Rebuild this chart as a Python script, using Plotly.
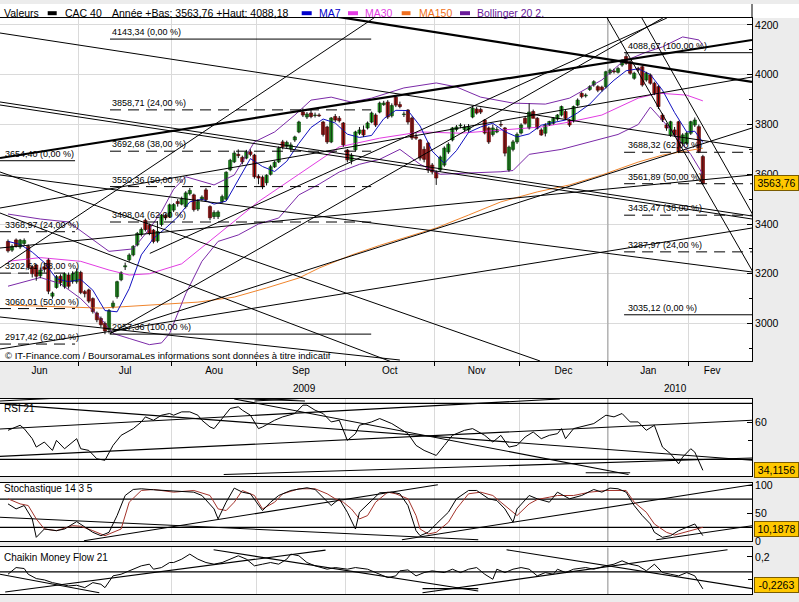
import plotly.graph_objects as go

W, H = 799, 602
FONT = "Liberation Sans, Arial, sans-serif"

# ---------------- data (CAC 40, daily, 5 Jun 2009 -> 4 Feb 2010) ----------------
opens = [3330,3295,3336,3308,3322,3310,3228,3235,3192,3228,
         3255,3110,3145,3190,3148,3195,3170,3168,3205,3128,
         3135,3100,3042,3020,3000,2975,3068,3108,3176,3228,
         3256,3276,3316,3358,3415,3395,3375,3332,3398,3435,
         3430,3456,3490,3480,3470,3522,3517,3460,3500,3537,
         3470,3430,3430,3490,3500,3618,3650,3680,3668,3665,
         3690,3677,3592,3588,3566,3600,3630,3650,3730,3712,
         3702,3738,3770,3850,3830,3846,3836,3838,3810,3790,
         3730,3832,3825,3806,3697,3655,3698,3765,3778,3786,
         3810,3838,3850,3880,3890,3835,3910,3880,3840,3858,
         3826,3750,3738,3700,3725,3637,3609,3617,3637,3690,
         3738,3780,3795,3780,3778,3830,3862,3860,3818,3786,
         3760,3770,3800,3786,3617,3700,3730,3766,3825,3786,
         3852,3825,3778,3765,3798,3805,3822,3838,3852,3818,
         3815,3878,3925,3915,3941,3959,3952,3950,3952,4007,
         4015,4010,4039,4073,4052,3986,4026,4032,3979,3999,
         3966,3952,3838,3798,3758,3778,3811,3724,3724,3765,
         3798,3791,3671]
highs = [3338,3318,3342,3340,3342,3318,3235,3240,3225,3245,
         3262,3128,3195,3198,3205,3205,3210,3222,3212,3135,
         3140,3105,3048,3028,3008,3058,3092,3172,3210,3245,
         3282,3315,3368,3386,3422,3402,3380,3412,3440,3442,
         3482,3484,3500,3510,3532,3545,3522,3500,3515,3545,
         3475,3455,3455,3518,3612,3662,3695,3700,3675,3698,
         3700,3682,3600,3595,3600,3638,3655,3712,3738,3735,
         3728,3755,3815,3865,3850,3858,3848,3845,3815,3795,
         3830,3842,3834,3810,3702,3685,3775,3790,3796,3812,
         3852,3845,3892,3895,3898,3885,3918,3892,3852,3862,
         3832,3765,3742,3712,3730,3645,3615,3675,3712,3728,
         3790,3798,3805,3800,3802,3872,3870,3868,3822,3792,
         3800,3790,3815,3790,3715,3738,3768,3805,3830,3885,
         3860,3830,3785,3805,3815,3830,3842,3876,3858,3822,
         3876,3905,3930,3925,3958,3978,3958,3956,4016,4025,
         4024,4032,4062,4088,4058,4012,4032,4038,4012,4005,
         3972,3958,3845,3805,3815,3790,3815,3765,3770,3815,
         3828,3800,3678]
lows = [3285,3288,3305,3300,3315,3215,3185,3172,3182,3205,
        3118,3100,3140,3150,3140,3140,3160,3160,3118,3105,
        3082,3040,3005,2985,2957,2960,3060,3100,3170,3215,
        3248,3270,3310,3350,3370,3355,3322,3325,3390,3415,
        3425,3448,3470,3475,3462,3515,3450,3452,3492,3490,
        3415,3420,3420,3485,3495,3612,3645,3665,3640,3660,
        3672,3582,3560,3540,3555,3595,3625,3645,3700,3705,
        3695,3730,3765,3830,3822,3825,3828,3830,3752,3722,
        3725,3810,3808,3710,3648,3640,3690,3758,3750,3780,
        3805,3790,3845,3875,3822,3828,3870,3865,3830,3800,
        3738,3738,3655,3648,3605,3600,3557,3610,3630,3682,
        3732,3772,3785,3772,3770,3825,3840,3842,3760,3722,
        3752,3765,3790,3672,3610,3692,3722,3760,3800,3780,
        3825,3780,3755,3752,3795,3800,3815,3832,3820,3790,
        3808,3872,3905,3908,3935,3952,3930,3932,3945,4000,
        4005,4005,4032,4040,4000,3980,4012,3952,3972,3960,
        3918,3862,3810,3775,3750,3750,3685,3715,3718,3758,
        3790,3685,3558]
closes = [3292,3310,3312,3335,3334,3225,3200,3190,3214,3218,
          3130,3122,3188,3165,3200,3150,3200,3208,3125,3120,
          3090,3048,3015,2995,2970,3052,3082,3168,3204,3232,
          3275,3310,3362,3378,3378,3362,3330,3370,3436,3425,
          3477,3478,3482,3500,3525,3535,3458,3490,3508,3498,
          3425,3446,3448,3510,3608,3656,3685,3675,3650,3690,
          3680,3590,3585,3550,3596,3630,3648,3705,3710,3728,
          3718,3750,3810,3838,3842,3832,3838,3835,3760,3730,
          3826,3818,3815,3718,3658,3676,3770,3778,3758,3806,
          3846,3798,3886,3886,3830,3876,3878,3872,3842,3810,
          3746,3745,3665,3660,3617,3609,3585,3669,3705,3720,
          3786,3790,3796,3790,3792,3866,3846,3850,3766,3730,
          3786,3780,3798,3685,3709,3730,3760,3798,3805,3850,
          3825,3785,3758,3798,3812,3825,3838,3872,3825,3798,
          3872,3898,3912,3918,3952,3972,3938,3940,4012,4019,
          4012,4025,4056,4046,4006,4006,4019,3959,4006,3966,
          3925,3872,3818,3786,3811,3758,3691,3758,3765,3811,
          3818,3691,3563.76]

ma7_idx = [0,3,6,9,12,15,18,21,24,27,30,33,36,39,42,45,48,51,54,57,60,63,66,69,72,75,78,81,84,87,
           90,93,96,99,102,105,108,111,114,117,120,123,126,129,132,135,138,141,144,147,150,153,156,159,
           162,165,168,170,172]
ma7_val = [3330,3318,3287,3245,3180,3168,3177,3134,3052,3047,3140,3276,3342,3383,3428,3489,3500,3480,
           3492,3575,3663,3631,3611,3652,3724,3788,3822,3806,3761,3748,3756,3823,3857,3856,3794,3693,
           3644,3695,3768,3790,3805,3771,3750,3762,3797,3808,3818,3847,3882,3933,3978,4016,4024,4001,
           3938,3848,3770,3773,3728]
ma30_idx = [0,8,18,25,30,35,43,52,62,72,82,92,102,112,122,132,139,147,156,161,168,172]
ma30_val = [3250,3265,3250,3215,3195,3200,3240,3360,3490,3600,3710,3745,3770,3765,3778,3790,3810,
            3838,3906,3926,3918,3895]
ma150_idx = [0,10,23,47,56,64,72,77,85,92,98,106,114,122,131,139,147,156,162,172]
ma150_val = [3074,3068,3062,3086,3106,3143,3183,3223,3275,3314,3344,3384,3436,3489,3529,3557,3597,
             3649,3677,3705]
boll_up_idx = [0,8,15,25,31,35,38,41,44,51,56,61,66,71,75,80,85,90,98,106,111,117,125,133,139,147,
               152,158,162,167,171,172]
boll_up_val = [3440,3420,3408,3290,3300,3380,3450,3540,3590,3557,3597,3730,3770,3838,3898,3910,3890,
               3906,3947,3967,3951,3910,3886,3882,3906,3979,4051,4091,4112,4152,4140,4120]
boll_lo_idx = [0,8,13,18,23,26,30,35,38,40,44,48,52,57,62,67,72,77,82,87,92,97,102,107,114,122,125,
               129,137,144,151,156,159,164,169,172]
boll_lo_val = [3150,3185,3160,3100,3020,2960,2940,2915,2922,2960,3120,3250,3330,3356,3400,3424,3517,
               3560,3609,3640,3660,3700,3640,3600,3605,3610,3615,3680,3700,3730,3760,3800,3870,3780,
               3680,3600]

rsi_idx = [0,1,3,4,6,7,9,11,12,14,17,18,20,22,24,26,28,31,33,34,36,38,40,41,43,45,47,48,50,51,
           53,55,57,58,60,62,63,66,68,71,73,74,76,78,80,82,84,86,87,90,92,95,97,99,101,103,105,106,
           108,110,113,115,118,120,122,124,126,128,130,132,134,136,137,138,140,143,145,148,150,152,
           154,156,158,160,162,164,166,167,169,170,172]
rsi_val = [55.6,56.5,58.3,56.5,51.1,46.6,49.3,44.8,50.2,45.7,51.1,45.7,44.8,40.3,39.5,47.5,52.9,
           56.5,60.1,62.8,61.0,63.7,64.6,63.7,65.5,65.5,63.7,61.0,57.4,56.5,61.9,67.3,68.2,66.4,
           63.7,56.5,57.4,61.0,62.8,64.6,69.1,69.1,66.4,64.6,60.1,61.0,50.2,53.8,58.3,60.1,61.9,
           59.2,56.5,53.8,47.5,44.8,43.0,42.1,47.5,52.9,55.6,56.5,52.9,49.3,52.9,46.6,47.5,52.0,
           54.7,51.1,52.9,53.8,56.5,51.1,56.5,58.3,59.2,63.7,62.8,64.6,60.1,60.1,55.6,58.3,46.6,
           43.0,37.6,41.2,45.7,43.9,34.1156]

stk_idx = [0,2,4,6,7,9,12,14,17,19,21,23,25,27,29,31,33,36,40,43,46,48,51,52,54,56,58,60,62,63,
           65,67,70,74,76,79,80,82,84,86,87,90,92,95,97,99,101,102,104,106,109,111,114,116,119,121,
           123,125,126,129,131,134,136,139,142,145,147,149,151,153,155,157,159,160,162,164,166,168,
           170,172]
stk_val = [66.5,57.6,63.6,39.8,7.2,22.0,19.0,22.0,35.1,25.0,16.1,10.1,16.1,45.8,81.4,92.1,93.3,
           91.5,90.3,88.5,87.3,81.4,57.6,39.8,69.5,94.5,87.3,84.4,63.6,54.7,69.5,81.4,90.3,95.1,
           92.1,69.5,63.6,75.5,51.7,22.0,51.7,72.5,86.2,87.3,84.4,63.6,19.0,10.1,16.1,30.9,51.7,
           75.5,90.3,90.3,75.5,72.5,57.6,33.9,57.6,81.4,75.5,69.5,87.3,75.5,81.4,92.1,87.3,94.5,
           93.3,87.3,63.6,45.8,30.9,16.1,7.2,10.1,19.0,25.0,30.9,10.1878]
std_idx = [0,3,5,7,9,12,16,18,21,24,28,30,33,36,41,46,50,52,54,56,58,61,63,66,68,72,76,79,81,83,
           85,87,89,91,94,96,99,101,102,104,106,109,111,114,117,120,122,125,126,129,131,134,136,140,
           144,148,150,153,155,158,160,163,165,168,170,172]
std_val = [75.5,66.5,63.6,39.8,22.0,19.0,27.9,26.8,19.0,10.1,22.0,69.5,90.3,92.1,87.3,90.3,81.4,
           57.6,54.7,69.5,90.3,81.4,57.6,69.5,84.4,93.3,93.3,84.4,75.5,69.5,57.6,39.8,45.8,69.5,
           87.3,84.4,75.5,45.8,22.0,13.1,16.1,33.9,57.6,84.4,87.3,81.4,69.5,51.7,45.8,66.5,74.3,
           78.4,81.4,81.4,87.3,90.3,90.3,90.3,69.5,51.7,30.9,16.1,11.3,17.2,22.0,25.0]

cmf_idx = [0,1,2,4,5,7,9,11,13,15,17,19,21,23,24,26,28,31,33,35,36,38,40,41,43,45,47,49,51,53,
           55,57,59,61,63,65,67,69,70,72,74,76,79,81,84,86,89,91,94,96,97,99,101,103,105,108,110,
           112,114,116,118,120,121,123,125,127,129,131,133,135,136,138,140,143,145,148,150,152,154,
           156,158,160,162,164,166,168,170,172]
cmf_val = [-0.031,0.014,0.058,0.045,-0.031,-0.089,-0.107,-0.143,-0.165,-0.187,-0.178,-0.21,-0.143,
           -0.165,-0.21,-0.053,-0.031,0.036,0.081,0.103,0.036,0.058,0.125,0.125,0.170,0.237,0.170,
           0.125,0.103,0.125,0.170,0.215,0.170,0.081,0.103,0.125,0.103,0.170,0.237,0.215,0.125,
           0.081,0.036,0.058,0.036,0.058,0.036,-0.009,-0.076,-0.053,0.014,0.027,-0.053,-0.009,
           0.014,-0.009,0.036,-0.009,0.036,0.058,-0.031,-0.098,0.036,-0.009,0.036,0.058,0.036,
           -0.053,-0.009,-0.031,0.036,-0.009,0.036,0.058,0.036,0.081,0.103,0.148,0.103,0.081,
           0.014,0.103,-0.009,-0.031,-0.053,-0.009,-0.053,-0.2263]

month_bounds = [17.5, 40.5, 61.5, 83.5, 105.5, 126.5, 148.5, 168.5]
month_centers = [7.8, 29, 51, 72.5, 94.5, 116, 137.5, 158.5, 174.3]
month_labels = ["Jun", "Jul", "Aou", "Sep", "Oct", "Nov", "Dec", "Jan", "Fev"]
year_pos = [73.5, 165.3]
year_labels = ["2009", "2010"]
year_break = 148.5

# Fibonacci retracements drawn on the chart
fibA_vals = [4143.34, 3858.71, 3692.68, 3550.36, 3408.04, 2957.36]
fibA_text = ["4143,34 (0,00 %)", "3858,71 (24,00 %)", "3692,68 (38,00 %)", "3550,36 (50,00 %)",
             "3408,04 (62,00 %)", "2957,36 (100,00 %)"]
fibA_dash = [False, True, True, True, True, False]
fibA_span = [25.25, 89.9]
fibB_vals = [4088.67, 3688.32, 3561.89, 3435.47, 3287.97, 3035.12]
fibB_text = ["4088,67 (100,00 %)", "3688,32 (62,00 %)", "3561,89 (50,00 %)", "3435,47 (38,00 %)",
             "3287,97 (24,00 %)", "3035,12 (0,00 %)"]
fibB_dash = [False, True, True, True, True, False]
fibB_span = [152.5, 184.16]
fibC_vals = [3654.40, 3368.97, 3202.61, 3060.01, 2917.42]
fibC_text = ["3654,40 (0,00 %)", "3368,97 (24,00 %)", "3202,61 (38,00 %)", "3060,01 (50,00 %)",
             "2917,42 (62,00 %)"]
fibC_dash = [False, True, True, True, True]
fibC_span = [-1.98, 16.6]

# hand-drawn trend lines (day index, value)
main_lines_thin = [
    (-1.98, 4167.8, 184.16, 3705.5), (-1.98, 3890.5, 184.16, 3432.2), (-1.98, 3878.4, 184.16, 3420.1),
    (-1.98, 3223.1, 91.3, 4236.2), (-1.98, 3609.1, 131.7, 2849.3), (-1.98, 3597.0, 184.16, 3207.1),
    (-1.98, 2897.5, 184.16, 3383.9), (25.2, 2961.8, 184.16, 3785.9), (148.3, 4228.1, 184.4, 3207.1),
    (156.9, 4228.1, 184.4, 3436.2), (25.2, 2957.8, 162.1, 4228.1), (-1.98, 3303.5, 184.16, 3597.0),
    (-1.98, 3026.2, 97.0, 2853.3), (-1.98, 3444.2, 97.0, 2833.0), (35.1, 3281.8, 163.1, 4228.1),
    (-1.98, 3464.3, 184.16, 3990.9)]
main_lines_thick = [(-1.98, 3665.3, 184.16, 4139.7), (72.3, 4256.3, 184.16, 3970.9)]
rsi_lines = [(-1.98, 71.3, 10.6, 72.7), (-0.7, 69.5, 184.2, 39.5), (-1.98, 56.3, 136.6, 72.4),
             (-1.98, 41.6, 184.2, 61.0), (53.4, 31.9, 184.2, 40.7), (56.0, 72.7, 73.5, 71.3),
             (61.0, 71.3, 72.3, 72.7), (143.0, 32.8, 154.0, 32.8), (56.0, 72.4, 153.6, 31.9)]
rsi_levels = [70, 40]
sto_lines = [(-1.98, 42.7, 116.4, 3.0), (18.8, 1.2, 106.4, 100.4), (97.5, 3.0, 184.2, 100.4),
             (160.5, 3.0, 184.2, 27.8)]
sto_levels = [75, 25]
cmf_lines = [(-1.98, -0.031, 22.6, -0.277), (-0.7, -0.268, 78.6, 0.291), (50.9, 0.295, 116.4, -0.255),
             (102.6, -0.277, 178.1, 0.295), (123.4, 0.295, 184.2, -0.223), (102.6, -0.223, 116.4, -0.223)]
cmf_levels = [0]

last_close_txt = "3563,76"
rsi_last_txt, sto_last_txt, cmf_last_txt = "34,1156", "10,1878", "-0,2263"

# ---------------- figure ----------------
n = len(closes)
days = list(range(n))
X_RANGE = [-1.98, 184.16]
X_DOM = [0, 752 / W]
RANGES = {"y": [2849.3, 4228.1], "y2": [31.07, 72.4], "y3": [0, 103.9], "y4": [-0.2987, 0.3267]}


def fy(y):
    return 1 - y / H


def fx(x):
    return x / W


fig = go.Figure()


def segs(lines, xa, ya, width=1, color="black", dash=None):
    xs, ys = [], []
    for a, b, c, d in lines:
        xs += [a, c, None]
        ys += [b, d, None]
    fig.add_trace(go.Scatter(x=xs, y=ys, mode="lines", xaxis=xa, yaxis=ya, hoverinfo="skip",
                             line=dict(color=color, width=width, dash=dash), showlegend=False))


def line(xs, ys, xa, ya, color, width=1):
    fig.add_trace(go.Scatter(x=xs, y=ys, mode="lines", xaxis=xa, yaxis=ya, hoverinfo="skip",
                             line=dict(color=color, width=width), showlegend=False))


# year separator (drawn first, above the grid)
for xa, ya in [("x", "y"), ("x2", "y2"), ("x3", "y3"), ("x4", "y4")]:
    r = RANGES[ya]
    segs([(year_break, r[0], year_break, r[1])], xa, ya, width=1, color="#9a9a9a")

# indicators on main chart
line(ma150_idx, ma150_val, "x", "y", "#f0852d")
line(boll_up_idx, boll_up_val, "x", "y", "#7b2aa8")
line(boll_lo_idx, boll_lo_val, "x", "y", "#7b2aa8")
line(ma30_idx, ma30_val, "x", "y", "#e23ce2")
line(ma7_idx, ma7_val, "x", "y", "#1010c0")

# candles: wicks + bodies
wx, wy = [], []
for i in days:
    wx += [i, i, None]
    wy += [lows[i], highs[i], None]
fig.add_trace(go.Scatter(x=wx, y=wy, mode="lines", xaxis="x", yaxis="y", hoverinfo="skip",
                         line=dict(color="#111111", width=1), showlegend=False))
up = [c >= o for o, c in zip(opens, closes)]
fig.add_trace(go.Bar(
    x=days, base=[min(o, c) for o, c in zip(opens, closes)],
    y=[max(abs(c - o), 2.0) for o, c in zip(opens, closes)], width=0.78,
    xaxis="x", yaxis="y", hoverinfo="skip", showlegend=False,
    marker=dict(color=["#22b822" if u else "#c81414" for u in up],
                line=dict(color=["#0d4a0d" if u else "#5a0606" for u in up], width=0.7))))

# fib lines
for vals, dashes, span in [(fibA_vals, fibA_dash, fibA_span), (fibB_vals, fibB_dash, fibB_span),
                           (fibC_vals, fibC_dash, fibC_span)]:
    solid = [(span[0], v, span[1], v) for v, d in zip(vals, dashes) if not d]
    dashed = [(span[0], v, span[1], v) for v, d in zip(vals, dashes) if d]
    segs(solid, "x", "y")
    segs(dashed, "x", "y", dash="11px,7px")

segs(main_lines_thin, "x", "y", width=1)
segs(main_lines_thick, "x", "y", width=2.2)

# RSI
segs([(X_RANGE[0], v, X_RANGE[1], v) for v in rsi_levels], "x2", "y2", width=1.3)
segs(rsi_lines, "x2", "y2", width=1.1)
line(rsi_idx, rsi_val, "x2", "y2", "#000000")
# Stochastic
segs([(X_RANGE[0], v, X_RANGE[1], v) for v in sto_levels], "x3", "y3", width=1.3)
segs(sto_lines, "x3", "y3", width=1.1)
line(std_idx, std_val, "x3", "y3", "#a3332b")
line(stk_idx, stk_val, "x3", "y3", "#000000")
# Chaikin
segs([(X_RANGE[0], v, X_RANGE[1], v) for v in cmf_levels], "x4", "y4", width=1.3)
segs(cmf_lines, "x4", "y4", width=1.1)
line(cmf_idx, cmf_val, "x4", "y4", "#000000")

GRID = "#dadada"
tickfont = dict(family=FONT, size=10.5, color="black")


def xax(anchor, main=False):
    d = dict(domain=X_DOM, range=X_RANGE, anchor=anchor, showline=True, mirror=True,
             linecolor="black", linewidth=1, zeroline=False, showgrid=False, fixedrange=True,
             minor=dict(tickmode="array", tickvals=month_bounds, showgrid=True, gridcolor=GRID,
                        gridwidth=1, ticks="outside" if main else "", ticklen=4,
                        tickcolor="black"))
    if main:
        d.update(tickmode="array", tickvals=month_centers, ticktext=month_labels, ticks="",
                 showticklabels=True, tickfont=dict(family=FONT, size=10, color="black"))
    else:
        d.update(showticklabels=False, ticks="")
    return d


def yax(dom, rng, anchor, **kw):
    d = dict(domain=dom, range=rng, anchor=anchor, side="right", showline=True, linecolor="black",
             linewidth=1, zeroline=False, showgrid=False, ticks="inside", ticklen=5,
             tickcolor="black", tickfont=tickfont, fixedrange=True)
    d.update(kw)
    return d


layout = dict(
    width=W, height=H, margin=dict(l=0, r=0, t=0, b=0), template="none",
    paper_bgcolor="#ececec", plot_bgcolor="white", showlegend=False, barmode="overlay",
    font=dict(family=FONT, size=10, color="black"), separators=", ",
    xaxis=xax("y", main=True), xaxis2=xax("y2"), xaxis3=xax("y3"), xaxis4=xax("y4"),
    yaxis=yax([fy(361), fy(18)], RANGES["y"], "x", tickmode="linear", tick0=0, dtick=200,
              showgrid=True, gridcolor=GRID,
              minor=dict(dtick=100, tick0=0, ticks="inside", ticklen=3, tickcolor="black")),
    yaxis2=yax([fy(476), fy(399)], RANGES["y2"], "x2", tickmode="array", tickvals=[60],
               ticktext=["60"], minor=dict(tickmode="array", tickvals=[50], ticks="inside",
                                            ticklen=4, tickcolor="black")),
    yaxis3=yax([fy(541.4), fy(482.8)], RANGES["y3"], "x3", tickmode="array", tickvals=[0, 50, 100],
               ticktext=["0", "50", "100"]),
    yaxis4=yax([fy(594.3), fy(547.4)], RANGES["y4"], "x4", tickmode="array", tickvals=[0.2],
               ticktext=["0,2"], minor=dict(tickmode="array", tickvals=[-0.1], ticks="inside",
                                             ticklen=4, tickcolor="black")),
)
fig.update_layout(**layout)

shapes = []
# white header strip
shapes.append(dict(type="rect", xref="paper", yref="paper", x0=0, x1=1, y0=fy(18), y1=fy(4),
                   fillcolor="white", line=dict(width=0), layer="below"))
# right axis line through the header
shapes.append(dict(type="line", xref="paper", yref="paper", x0=X_DOM[1], x1=X_DOM[1], y0=fy(18),
                   y1=fy(4), line=dict(color="black", width=1)))
# legend swatches
for (x0, x1), col in [((47.7, 56.7), "#000000"), ((301.7, 311.7), "#0000cc"),
                      ((348, 358), "#e23ce2"), ((401.7, 410.5), "#f07020"),
                      ((460, 470), "#6a1b9a")]:
    shapes.append(dict(type="rect", xref="paper", yref="paper", x0=fx(x0), x1=fx(x1),
                       y0=fy(15.2), y1=fy(11.2), fillcolor=col, line=dict(width=0)))
fig.update_layout(shapes=shapes)

ann = []


def txt(x, y, s, color="black", size=10.5, xref="paper", yref="paper", **kw):
    d = dict(x=x, y=y, xref=xref, yref=yref, text=s, showarrow=False, xanchor="left",
             yanchor="middle", font=dict(family=FONT, size=size, color=color))
    d.update(kw)
    ann.append(d)


hy = fy(12.5)
txt(fx(1.5), hy, "Valeurs")
txt(fx(62.5), hy, "CAC 40")
txt(fx(109.5), hy, "Année +Bas: 3563,76 +Haut: 4088,18")
txt(fx(316.5), hy, "MA7", color="#0000cc")
txt(fx(362.5), hy, "MA30", color="#e23ce2")
txt(fx(416.5), hy, "MA150", color="#f07020")
txt(fx(475.5), hy, "Bollinger 20 2.", color="#6a1b9a")

for vals, texts, xpos in [(fibA_vals, fibA_text, 25.25), (fibB_vals, fibB_text, 153.0),
                          (fibC_vals, fibC_text, -1.24)]:
    for v, s in zip(vals, texts):
        txt(xpos, v, s, size=9, xref="x", yref="y", yshift=7)

txt(fx(3), fy(355), "© IT-Finance.com / BoursoramaLes informations sont données à titre indicatif",
    size=9.5)
txt(fx(2), fy(408), "RSI 21", size=10)
txt(fx(2), fy(488), "Stochastique 14 3 5", size=10)
txt(fx(2), fy(557), "Chaikin Money Flow 21", size=10)
for p, s in zip(year_pos, year_labels):
    txt(p, fy(388), s, size=10, xref="x", xanchor="center")

box = dict(bgcolor="#ffc800", bordercolor="#7a5c00", borderwidth=1, borderpad=1, width=41,
           align="center")
txt(fx(753.5), closes[-1], last_close_txt, yref="y", **box)
txt(fx(753.5), rsi_val[-1], rsi_last_txt, yref="y2", **box)
txt(fx(753.5), stk_val[-1], sto_last_txt, yref="y3", yshift=7, **box)
txt(fx(753.5), cmf_val[-1], cmf_last_txt, yref="y4", yshift=4, **box)
fig.update_layout(annotations=ann)

fig.write_html("out.html")
